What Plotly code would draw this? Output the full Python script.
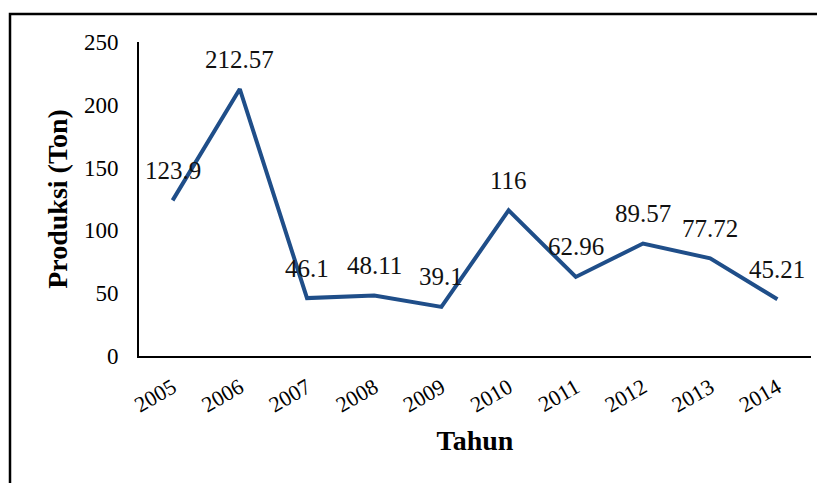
import plotly.graph_objects as go

years = ["2005", "2006", "2007", "2008", "2009", "2010", "2011", "2012", "2013", "2014"]
produksi = [123.9, 212.57, 46.1, 48.11, 39.1, 116, 62.96, 89.57, 77.72, 45.21]
label_text = ["123.9", "212.57", "46.1", "48.11", "39.1", "116", "62.96", "89.57", "77.72", "45.21"]
y_ticks = [0, 50, 100, 150, 200, 250]

FONT = "Liberation Serif"
LINE_COLOR = "#1f4e89"

fig = go.Figure()
fig.add_trace(go.Scatter(
    x=years, y=produksi, mode="lines",
    line=dict(color=LINE_COLOR, width=4),
    hoverinfo="x+y", showlegend=False,
))

for i, (y, t) in enumerate(zip(produksi, label_text)):
    fig.add_annotation(x=i, y=y, xref="x", yref="y", text=t, showarrow=False, yshift=30,
                       font=dict(family=FONT, size=25, color="#111111"))

# page body adds 8px offset; margins compensate
fig.update_layout(
    width=825, height=483,
    margin=dict(l=131, r=22, t=34, b=135),
    paper_bgcolor="white", plot_bgcolor="white",
    font=dict(family=FONT, color="#000000"),
    xaxis=dict(
        type="category", range=[-0.5, 9.5],
        showline=True, linecolor="#000000", linewidth=2,
        showgrid=False, zeroline=False, ticks="",
        tickangle=-30, tickfont=dict(family=FONT, size=22),
        ticklabelstandoff=8,
        title=dict(text="<b>Tahun</b>", font=dict(family=FONT, size=28), standoff=14),
    ),
    yaxis=dict(
        range=[0, 250], tickvals=y_ticks,
        showline=True, linecolor="#000000", linewidth=2,
        showgrid=False, zeroline=False, ticks="",
        tickfont=dict(family=FONT, size=23),
        ticklabelstandoff=14,
        title=dict(text="<b>Produksi (Ton)</b>", font=dict(family=FONT, size=28), standoff=8),
    ),
    shapes=[dict(type="rect", xref="paper", yref="paper",
                 x0=(10 - 139) / 672, x1=(840 - 139) / 672,
                 y0=(356 - 500) / 314, y1=(356 - 14) / 314,
                 line=dict(color="#000000", width=2.5), fillcolor="rgba(0,0,0,0)", layer="below")],
)

fig.write_html("out.html")
